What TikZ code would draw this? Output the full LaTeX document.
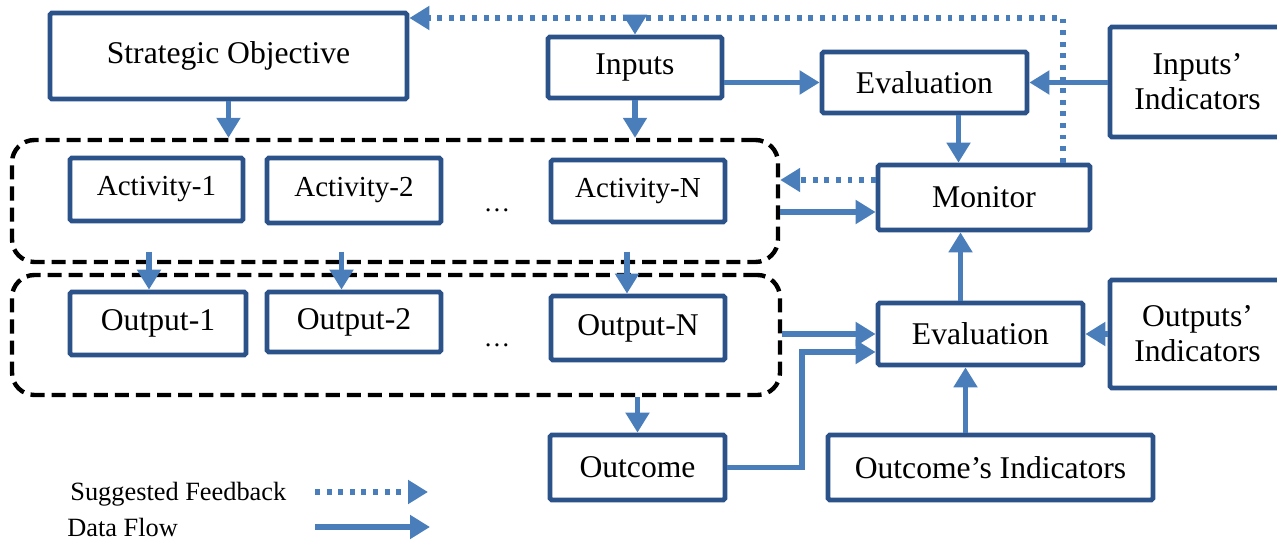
\documentclass[tikz,border=0pt]{standalone}
\usepackage{fontspec}
\setmainfont{Liberation Serif}
\usetikzlibrary{arrows.meta}

\definecolor{boxblue}{RGB}{44,82,138}
\definecolor{flowblue}{RGB}{74,126,187}

\begin{document}
\begin{tikzpicture}[
        box/.style={draw=boxblue, line width=2.7pt, rounded corners=1pt, align=center, fill=white, inner sep=2pt, font=\fontsize{18}{20}\selectfont},
        smallbox/.style={box, font=\fontsize{16.5}{19}\selectfont},
        group/.style={draw=black, line width=2.5pt, rounded corners=0.45cm, dash pattern=on 8pt off 4pt},
        flow/.style={draw=flowblue, line width=3.3pt, -{Triangle[width=0.46cm, length=0.4cm]}},
        feedback/.style={flow, dash pattern=on 2.8pt off 3.8pt},
        legend/.style={font=\fontsize{15}{17}\selectfont, anchor=west, inner sep=0pt}
    ]
        \useasboundingbox (0,0) rectangle (25.54,-10.8);
        % groups first, so the arrows sit on top
        \node[group, minimum width=15.32cm, minimum height=2.44cm] (actgrp) at (7.9,-4.02) {};
        \node[group, minimum width=15.36cm, minimum height=2.4cm] (outgrp) at (7.92,-6.7) {};

        \node[box, minimum width=7.14cm, minimum height=1.72cm] (strat) at (4.57,-1.12) {Strategic Objective};
        \node[box, minimum width=3.48cm, minimum height=1.22cm] (inputs) at (12.7,-1.35) {Inputs};
        \node[box, minimum width=4.1cm, minimum height=1.22cm] (evalin) at (18.49,-1.65) {Evaluation};
        \node[box, minimum width=3.5cm, minimum height=2.2cm] (inind) at (23.95,-1.64) {Inputs’\\Indicators};

        \node[smallbox, minimum width=3.46cm, minimum height=1.26cm] (act1) at (3.13,-3.79) {Activity-1};
        \node[smallbox, minimum width=3.48cm, minimum height=1.3cm] (act2) at (7.08,-3.81) {Activity-2};
        \node[smallbox, minimum width=3.48cm, minimum height=1.24cm] (actN) at (12.76,-3.82) {Activity-N};
        \node[font=\fontsize{15}{17}\selectfont] (actdots) at (9.94,-4.2) {…};
        \node[box, minimum width=4.24cm, minimum height=1.3cm] (monitor) at (19.68,-3.95) {Monitor};

        \node[box, minimum width=3.52cm, minimum height=1.26cm] (out1) at (3.16,-6.47) {Output-1};
        \node[box, minimum width=3.48cm, minimum height=1.2cm] (out2) at (7.08,-6.44) {Output-2};
        \node[box, minimum width=3.48cm, minimum height=1.28cm] (outN) at (12.76,-6.56) {Output-N};
        \node[font=\fontsize{15}{17}\selectfont] (outdots) at (9.94,-6.9) {…};
        \node[box, minimum width=4.1cm, minimum height=1.24cm] (evalout) at (19.61,-6.68) {Evaluation};
        \node[box, minimum width=3.5cm, minimum height=2.16cm] (outind) at (23.95,-6.68) {Outputs’\\Indicators};

        \node[box, minimum width=3.5cm, minimum height=1.3cm] (outcome) at (12.75,-9.35) {Outcome};
        \node[box, minimum width=6.5cm, minimum height=1.3cm] (outcind) at (19.81,-9.35) {Outcome’s Indicators};

        % legend
        \node[legend] (fblabel) at (1.4,-9.88) {Suggested Feedback};
        \node[legend] (dflabel) at (1.34,-10.54) {Data Flow};
        \coordinate (fbfrom) at (6.3,-9.84);
        \coordinate (fbto) at (8.56,-9.84);
        \coordinate (dffrom) at (6.3,-10.54);
        \coordinate (dfto) at (8.6,-10.54);
        \draw[feedback] (fbfrom) -- (fbto);
        \draw[flow] (dffrom) -- (dfto);

        % data flow
        \draw[flow] (strat.south) -- (strat.south |- actgrp.north);
        \draw[flow] (inputs.south) -- (inputs.south |- actgrp.north);
        \draw[flow] (inputs.east |- evalin.west) -- (evalin.west);
        \draw[flow] (inind.west |- evalin.east) -- (evalin.east);
        \draw[flow] ([xshift=0.68cm]evalin.south) -- ([xshift=0.68cm]evalin.south |- monitor.north);
        \draw[flow] ([yshift=-0.29cm]monitor.west -| actgrp.east) -- ([yshift=-0.29cm]monitor.west);
        \draw[flow] ([xshift=-0.15cm, yshift=0.25cm]act1.south |- actgrp.south) -- ([xshift=-0.15cm]act1.south |- out1.north);
        \draw[flow] ([xshift=-0.25cm, yshift=0.25cm]act2.south |- actgrp.south) -- ([xshift=-0.25cm]act2.south |- out2.north);
        \draw[flow] ([xshift=-0.22cm, yshift=0.25cm]actN.south |- actgrp.south) -- ([xshift=-0.22cm]actN.south |- outN.north);
        \draw[flow] (outgrp.east |- evalout.west) -- (evalout.west);
        \draw[flow] (outind.west |- evalout.east) -- (evalout.east);
        \draw[flow] (outcome.north |- outgrp.south) -- (outcome.north);
        \draw[flow] (outcome.east) -- ++(1.5,0) |- ([yshift=-0.36cm]evalout.west);
        \draw[flow] ([xshift=-0.3cm]evalout.south |- outcind.north) -- ([xshift=-0.3cm]evalout.south);
        \draw[flow] ([xshift=-0.4cm]evalout.north) -- ([xshift=-0.4cm]evalout.north |- monitor.south);

        % suggested feedback
        \coordinate (fbline) at ([yshift=0.76cm]strat.east);
        \draw[feedback] ([yshift=0.35cm]monitor.west) -- ([yshift=0.35cm]monitor.west -| actgrp.east);
        \draw[feedback] ([xshift=1.58cm]monitor.north) |- (fbline);
        \draw[feedback] (inputs.north |- fbline) -- (inputs.north);
    \end{tikzpicture}
\end{document}
